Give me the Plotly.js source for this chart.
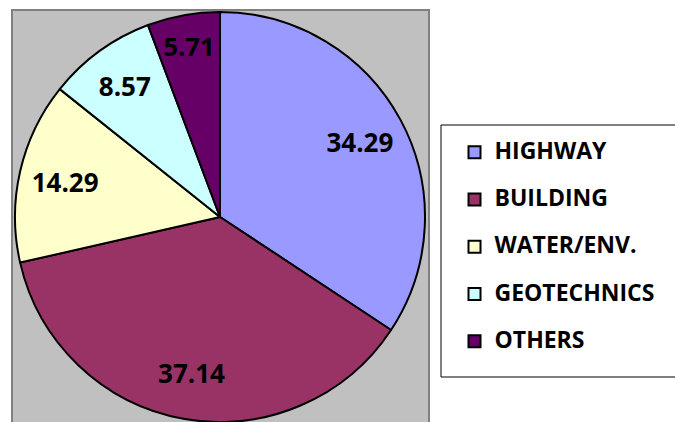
<!DOCTYPE html>
<html>
<head>
<meta charset="utf-8">
<script src="https://cdn.plot.ly/plotly-3.0.1.min.js"></script>
<style>
html, body { margin: 0; padding: 0; overflow: hidden; background: #ffffff; }
#chart { width: 675px; height: 422px; }
</style>
</head>
<body>
<div id="chart"></div>
<script>
const categories = ["HIGHWAY", "BUILDING", "WATER/ENV.", "GEOTECHNICS", "OTHERS"];
const shares = [34.29, 37.14, 14.29, 8.57, 5.71];
const colors = ["#9999FF", "#993366", "#FFFFCC", "#CCFFFF", "#660066"];

const W = 675, H = 422;
const legendLabels = categories.map(c => "<span style='font-size:23px'>" + c + "</span><br>\u00a0");
const pieDomain = { x: [12 / W, 428 / W], y: [0, 1 - 12 / H] };
const labelFont = { family: "Open Sans", size: 26, weight: "bold", color: "#000000" };

// full pie: slices, outlines and legend
const slices = {
  type: "pie",
  labels: legendLabels,
  values: shares,
  sort: false,
  direction: "clockwise",
  rotation: 0,
  marker: { colors: colors, line: { color: "#000000", width: 2 } },
  textinfo: "none",
  hoverinfo: "skip",
  domain: pieDomain
};

// transparent ring of the same pie that only carries the value labels,
// so they sit in the outer part of each slice as in the reference
const valueLabels = {
  type: "pie",
  labels: legendLabels,
  values: shares,
  sort: false,
  direction: "clockwise",
  rotation: 0,
  hole: 0.55,
  showlegend: false,
  marker: { colors: colors.map(() => "rgba(0,0,0,0)"), line: { width: 0 } },
  texttemplate: "%{value:.2f}",
  textposition: "inside",
  insidetextorientation: "horizontal",
  textfont: labelFont,
  insidetextfont: labelFont,
  hoverinfo: "skip",
  domain: pieDomain
};

const layout = {
  width: W,
  height: H,
  margin: { l: 0, r: 0, t: 0, b: 0 },
  paper_bgcolor: "#ffffff",
  showlegend: true,
  legend: {
    x: 454.5 / W, xanchor: "left",
    y: 1 - 134.8 / H, yanchor: "top",
    bgcolor: "rgba(0,0,0,0)",
    borderwidth: 0,
    valign: "top",
    font: { family: "Open Sans", size: 17, weight: "bold", color: "#000000" }
  },
  shapes: [
    {
      type: "rect", xref: "paper", yref: "paper", layer: "below",
      x0: 12 / W, x1: 429 / W, y0: -0.05, y1: 1 - 10 / H,
      fillcolor: "#C0C0C0", line: { color: "#808080", width: 2 }
    },
    {
      type: "rect", xref: "paper", yref: "paper", layer: "below",
      x0: 441 / W, x1: 1.02, y0: 1 - 377 / H, y1: 1 - 125 / H,
      fillcolor: "#ffffff", line: { color: "#000000", width: 1 }
    }
  ]
};

Plotly.newPlot("chart", [slices, valueLabels], layout, { displayModeBar: false, staticPlot: true });
</script>
</body>
</html>
